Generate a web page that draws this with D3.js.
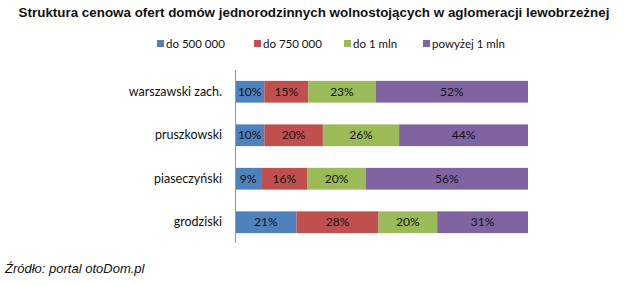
<!DOCTYPE html>
<html><head><meta charset="utf-8">
<script src="https://cdn.jsdelivr.net/npm/d3@7"></script>
<style>body{margin:0;background:#fff}</style>
</head><body>
<svg id="c" width="625" height="285"></svg>
<script>
const categories = ["warszawski zach.", "pruszkowski", "piaseczyński", "grodziski"];
const seriesNames = ["do 500 000", "do 750 000", "do 1 mln", "powyżej 1 mln"];
const do500 = [10, 10, 9, 21];
const do750 = [15, 20, 16, 28];
const do1mln = [23, 26, 20, 20];
const powyzej1mln = [52, 44, 56, 31];
const colors = ["#4F81BD", "#C0504D", "#9BBB59", "#8064A2"];

const svg = d3.select("#c");
const rows = categories.map((c, i) => ({cat: c, v: [do500[i], do750[i], do1mln[i], powyzej1mln[i]]}));
const x = d3.scaleLinear().domain([0, 1]).range([235, 528]);
const y = d3.scaleBand().domain(categories).range([70, 244]).paddingInner(0.5).paddingOuter(0.25);
const lblFont = "Lato, 'Open Sans', sans-serif";

svg.append("text").attr("x", 314).attr("y", 17).attr("text-anchor", "middle")
  .attr("font-family", "'Liberation Sans Narrow', 'Arial Narrow', 'Liberation Sans', sans-serif").attr("font-weight", "bold")
  .attr("font-size", 13.4).attr("fill", "#111")
  .text("Struktura cenowa ofert domów jednorodzinnych wolnostojących w aglomeracji lewobrzeżnej");

const legX = [157, 254, 344, 423];
seriesNames.forEach((s, j) => {
  svg.append("rect").attr("x", legX[j]).attr("y", 40).attr("width", 7).attr("height", 7).attr("fill", colors[j]);
  svg.append("text").attr("x", legX[j] + 9).attr("y", 47.5).attr("font-family", lblFont)
    .attr("font-size", 11.5).attr("fill", "#111").text(s);
});

rows.forEach(r => {
  const tot = d3.sum(r.v);
  let acc = 0;
  const g = svg.append("g");
  r.v.forEach((v, j) => {
    const x0 = x(acc / tot), x1 = x((acc + v) / tot);
    g.append("rect").attr("x", x0).attr("y", y(r.cat)).attr("width", x1 - x0).attr("height", y.bandwidth()).attr("fill", colors[j]);
    g.append("text").attr("x", (x0 + x1) / 2).attr("y", y(r.cat) + y.bandwidth() / 2 + 4)
      .attr("text-anchor", "middle").attr("font-family", lblFont).attr("font-size", 12)
      .attr("fill", "#111").text(v + "%");
    acc += v;
  });
});

const yAxis = d3.axisLeft(y).tickSize(0).tickPadding(13);
const ga = svg.append("g").attr("transform", "translate(235,0)").call(yAxis);
ga.select(".domain").attr("stroke", "#999").attr("d", "M0.5,70V243");
ga.selectAll("text").attr("font-family", lblFont).attr("font-size", 12.5).attr("fill", "#111");

svg.append("text").attr("x", 5).attr("y", 273).attr("font-family", "'Liberation Sans', Arial, sans-serif")
  .attr("font-style", "italic").attr("font-size", 13).attr("fill", "#111").text("Źródło: portal otoDom.pl");
</script>
</body></html>
